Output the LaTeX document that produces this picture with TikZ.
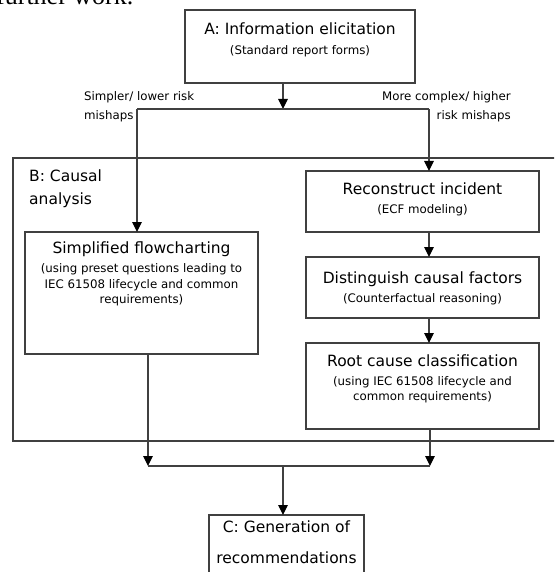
\documentclass[tikz,border=0pt]{standalone}
\usepackage{fontspec}
\setmainfont{DejaVu Sans}
\newfontfamily\serifA{Liberation Serif}
\usetikzlibrary{arrows.meta}
\begin{document}
\begin{tikzpicture}[x=1pt,y=-1pt,
  box/.style={draw=black!75, line width=1.1pt, anchor=north west, inner sep=0pt, outer sep=0pt},
  ln/.style={draw=black!75, line width=1.1pt},
  arr/.style={ln, -{Triangle[length=10pt,width=9.5pt,color=black,fill=black]}},
  ttl/.style={font=\fontsize{15.5}{19}\selectfont, inner sep=0pt},
  sub/.style={font=\fontsize{11.8}{15.5}\selectfont, inner sep=0pt, align=center},
]
\useasboundingbox (0,0) rectangle (554,572);
\clip (0,0) rectangle (554,572);

\node[font=\serifA\fontsize{26}{26}\selectfont, anchor=base west, inner sep=0pt] (fw) at (-4,4.5) {further work.};

% boxes
\node[box, minimum width=230pt, minimum height=73pt] (A) at (185,10) {};
\node[box, minimum width=600pt, minimum height=283pt] (B) at (13,158) {};
\node[box, minimum width=233pt, minimum height=122pt] (Simp) at (25,232) {};
\node[box, minimum width=233pt, minimum height=61pt] (Rec) at (306,171) {};
\node[box, minimum width=233pt, minimum height=61pt] (Dist) at (306,257) {};
\node[box, minimum width=233pt, minimum height=86pt] (Root) at (306,343) {};
\node[box, minimum width=155pt, minimum height=85pt] (C) at (209,515) {};

% texts
\node[ttl] (At) at (300,29) {A: Information elicitation};
\node[sub] (As) at (300,51) {(Standard report forms)};
\node[ttl, align=left, anchor=west, font=\fontsize{15.5}{23}\selectfont] (Bt) at (29,188.5) {B: Causal\\analysis};
\node[ttl] (St) at (141.5,249) {Simplified flowcharting};
\node[sub] (Ss) at (141.5,285) {(using preset questions leading to\\IEC 61508 lifecycle and common\\requirements)};
\node[ttl] (Rt) at (422.5,189) {Reconstruct incident};
\node[sub] (Rs) at (422.5,210) {(ECF modeling)};
\node[ttl] (Dt) at (422.5,279) {Distinguish causal factors};
\node[sub] (Ds) at (422.5,299) {(Counterfactual reasoning)};
\node[ttl] (Ot) at (422.5,361) {Root cause classification};
\node[sub] (Os) at (422.5,389.5) {(using IEC 61508 lifecycle and\\common requirements)};
\node[ttl, align=center, font=\fontsize{15.5}{31}\selectfont] (Ct) at (286.5,542) {C: Generation of\\recommendations};
\node[sub, align=left, anchor=west, font=\fontsize{11.8}{19}\selectfont] (Ll) at (84,106.5) {Simpler/ lower risk\\mishaps};
\node[sub, align=right, anchor=east, font=\fontsize{11.8}{19}\selectfont] (Lr) at (511,106.5) {More complex/ higher\\risk mishaps};

% junctions
\coordinate (jA) at (283,109);
\coordinate (jL) at (137,109);
\coordinate (jR) at (429,109);
\coordinate (mL) at (148,466);
\coordinate (mR) at (430,466);
\coordinate (mC) at (283,466);

\draw[arr] (A.south -| jA) -- (jA);
\draw[ln] (jL) -- (jR);
\draw[arr] (jL) -- (jL |- Simp.north);
\draw[arr] (jR) -- (jR |- Rec.north);
\draw[arr] (Rec.south -| jR) -- (jR |- Dist.north);
\draw[arr] (Dist.south -| jR) -- (jR |- Root.north);
\draw[arr] (Simp.south -| mL) -- (mL);
\draw[arr] (Root.south -| mR) -- (mR);
\draw[ln] (mL) -- (mR);
\draw[arr] (mC) -- (mC |- C.north);
\end{tikzpicture}
\end{document}
